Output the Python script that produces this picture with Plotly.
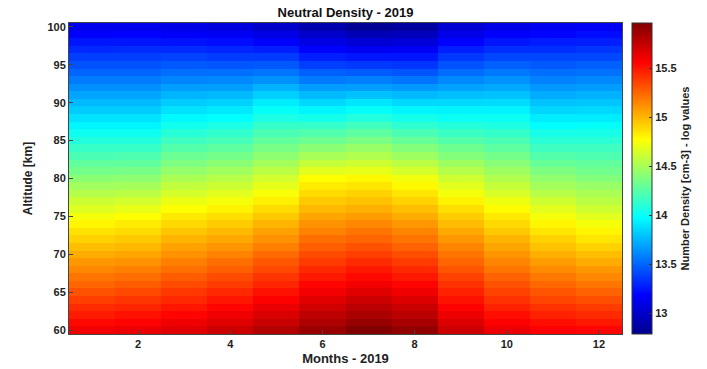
import numpy as np
import plotly.graph_objects as go

# Altitude grid [km] and month numbers
altitudes = list(range(60, 101))
months = list(range(1, 13))

# log10 neutral number density [cm-3], one profile per month, 60 -> 100 km
jan = [15.60, 15.54, 15.48, 15.43, 15.37, 15.31, 15.25, 15.20, 15.14, 15.09, 15.03,
       14.97, 14.91, 14.86, 14.80, 14.74, 14.67, 14.61, 14.54, 14.48, 14.41,
       14.34, 14.28, 14.21, 14.15, 14.08, 14.02, 13.95, 13.89, 13.82, 13.76,
       13.70, 13.63, 13.57, 13.50, 13.44, 13.38, 13.31, 13.25, 13.18, 13.12]
feb = [15.62, 15.56, 15.51, 15.45, 15.40, 15.34, 15.28, 15.22, 15.17, 15.11, 15.05,
       14.99, 14.94, 14.88, 14.83, 14.77, 14.70, 14.63, 14.56, 14.49, 14.42,
       14.35, 14.28, 14.22, 14.15, 14.08, 14.02, 13.95, 13.89, 13.82, 13.76,
       13.70, 13.63, 13.57, 13.50, 13.44, 13.38, 13.32, 13.25, 13.19, 13.13]
mar = [15.66, 15.61, 15.55, 15.50, 15.44, 15.39, 15.33, 15.28, 15.22, 15.17, 15.11,
       15.06, 15.00, 14.95, 14.89, 14.84, 14.77, 14.71, 14.64, 14.58, 14.51,
       14.44, 14.37, 14.31, 14.24, 14.17, 14.10, 14.03, 13.96, 13.89, 13.82,
       13.75, 13.68, 13.60, 13.53, 13.46, 13.39, 13.32, 13.24, 13.17, 13.10]
apr = [15.72, 15.66, 15.61, 15.55, 15.50, 15.44, 15.38, 15.33, 15.27, 15.22, 15.16,
       15.10, 15.04, 14.99, 14.93, 14.87, 14.81, 14.74, 14.68, 14.61, 14.55,
       14.48, 14.41, 14.34, 14.27, 14.20, 14.13, 14.06, 13.98, 13.91, 13.84,
       13.76, 13.68, 13.61, 13.53, 13.45, 13.37, 13.30, 13.22, 13.15, 13.07]
may = [15.80, 15.74, 15.68, 15.63, 15.57, 15.51, 15.45, 15.40, 15.34, 15.29, 15.23,
       15.17, 15.11, 15.06, 15.00, 14.94, 14.88, 14.82, 14.75, 14.69, 14.63,
       14.56, 14.49, 14.42, 14.35, 14.28, 14.21, 14.14, 14.06, 13.99, 13.92,
       13.83, 13.74, 13.64, 13.55, 13.46, 13.37, 13.28, 13.18, 13.09, 13.00]
jun = [15.88, 15.82, 15.77, 15.71, 15.66, 15.60, 15.55, 15.49, 15.44, 15.38, 15.33,
       15.27, 15.22, 15.16, 15.11, 15.05, 14.99, 14.94, 14.88, 14.83, 14.77,
       14.68, 14.59, 14.50, 14.41, 14.32, 14.23, 14.14, 14.04, 13.95, 13.86,
       13.76, 13.67, 13.57, 13.48, 13.38, 13.28, 13.19, 13.09, 13.00, 12.90]
jul = [15.95, 15.89, 15.83, 15.78, 15.72, 15.66, 15.60, 15.54, 15.49, 15.43, 15.37,
       15.31, 15.25, 15.20, 15.14, 15.08, 15.02, 14.96, 14.91, 14.85, 14.79,
       14.70, 14.62, 14.53, 14.45, 14.36, 14.27, 14.18, 14.08, 13.99, 13.90,
       13.79, 13.68, 13.58, 13.47, 13.36, 13.25, 13.14, 13.04, 12.93, 12.82]
aug = [15.90, 15.84, 15.78, 15.73, 15.67, 15.61, 15.55, 15.49, 15.44, 15.38, 15.32,
       15.26, 15.20, 15.15, 15.09, 15.03, 14.97, 14.91, 14.85, 14.79, 14.73,
       14.64, 14.56, 14.47, 14.39, 14.30, 14.21, 14.12, 14.04, 13.95, 13.86,
       13.76, 13.66, 13.55, 13.45, 13.35, 13.25, 13.15, 13.05, 12.95, 12.85]
sep = [15.72, 15.67, 15.62, 15.56, 15.51, 15.46, 15.41, 15.36, 15.30, 15.25, 15.20,
       15.15, 15.09, 15.04, 14.98, 14.93, 14.87, 14.81, 14.74, 14.68, 14.62,
       14.54, 14.47, 14.39, 14.32, 14.24, 14.16, 14.09, 14.01, 13.94, 13.86,
       13.78, 13.69, 13.61, 13.52, 13.44, 13.36, 13.28, 13.19, 13.11, 13.03]
oct_ = [15.62, 15.57, 15.52, 15.46, 15.41, 15.36, 15.31, 15.26, 15.20, 15.15, 15.10,
        15.05, 15.00, 14.94, 14.89, 14.84, 14.78, 14.72, 14.65, 14.59, 14.53,
        14.47, 14.40, 14.34, 14.27, 14.21, 14.14, 14.07, 14.01, 13.94, 13.87,
        13.79, 13.71, 13.64, 13.56, 13.48, 13.40, 13.33, 13.25, 13.18, 13.10]
nov = [15.57, 15.52, 15.46, 15.41, 15.35, 15.30, 15.24, 15.19, 15.13, 15.08, 15.02,
       14.96, 14.91, 14.85, 14.80, 14.74, 14.68, 14.62, 14.55, 14.49, 14.43,
       14.37, 14.30, 14.24, 14.17, 14.11, 14.05, 13.98, 13.92, 13.85, 13.79,
       13.72, 13.66, 13.59, 13.53, 13.46, 13.40, 13.33, 13.27, 13.20, 13.14]
dec = [15.55, 15.49, 15.43, 15.38, 15.32, 15.26, 15.20, 15.14, 15.09, 15.03, 14.97,
       14.91, 14.85, 14.80, 14.74, 14.68, 14.62, 14.56, 14.51, 14.45, 14.39,
       14.33, 14.28, 14.22, 14.17, 14.11, 14.05, 13.99, 13.92, 13.86, 13.80,
       13.74, 13.67, 13.61, 13.54, 13.48, 13.41, 13.35, 13.28, 13.22, 13.15]

x_ticks = [2, 4, 6, 8, 10, 12]
y_ticks = [60, 65, 70, 75, 80, 85, 90, 95, 100]
cbar_ticks = [13, 13.5, 14, 14.5, 15, 15.5]

# rows = altitude, columns = month
z = np.array([jan, feb, mar, apr, may, jun, jul, aug, sep, oct_, nov, dec]).T

# MATLAB-style jet colormap
jet = [
    [0.0, "rgb(0,0,143)"],
    [0.125, "rgb(0,0,255)"],
    [0.375, "rgb(0,255,255)"],
    [0.625, "rgb(255,255,0)"],
    [0.875, "rgb(255,0,0)"],
    [1.0, "rgb(128,0,0)"],
]

FONT = "Liberation Sans, Arial, sans-serif"

fig = go.Figure(
    go.Heatmap(
        x=months,
        y=altitudes,
        z=z,
        colorscale=jet,
        zmin=12.79,
        zmax=15.96,
        colorbar=dict(
            x=1.018,
            xanchor="left",
            y=0.5,
            yanchor="middle",
            len=1.0,
            lenmode="fraction",
            thickness=20,
            xpad=0,
            ypad=0,
            outlinecolor="#333333",
            outlinewidth=1,
            tickvals=cbar_ticks,
            ticktext=["13", "13.5", "14", "14.5", "15", "15.5"],
            ticks="inside",
            ticklen=3,
            tickcolor="#333333",
            tickfont=dict(family=FONT, size=11, color="#222222", weight="bold"),
            title=dict(
                text="Number Density [cm-3] - log values",
                side="right",
                font=dict(family=FONT, size=11, color="#222222", weight="bold"),
            ),
        ),
        hovertemplate="Month %{x}<br>%{y} km<br>%{z:.2f}<extra></extra>",
    )
)

fig.update_layout(
    width=707,
    height=369,
    margin=dict(l=69, r=85, t=23, b=35, autoexpand=False),
    paper_bgcolor="white",
    plot_bgcolor="white",
    title=dict(
        text="Neutral Density - 2019",
        x=(69 + 622) / 2 / 707,
        xanchor="center",
        y=1 - 12 / 369,
        yanchor="middle",
        font=dict(family=FONT, size=13, color="#111111", weight="bold"),
    ),
    font=dict(family=FONT, color="#222222"),
)

fig.update_xaxes(
    range=[0.5, 12.5],
    tickvals=x_ticks,
    ticks="inside",
    ticklen=4,
    tickcolor="#444444",
    showline=True,
    linecolor="#444444",
    linewidth=1,
    mirror=True,
    showgrid=False,
    zeroline=False,
    tickfont=dict(family=FONT, size=11, color="#222222", weight="bold"),
    title=dict(
        text="Months - 2019",
        standoff=4,
        font=dict(family=FONT, size=13, color="#222222", weight="bold"),
    ),
)
fig.update_yaxes(
    range=[59.5, 100.5],
    tickvals=y_ticks,
    ticks="inside",
    ticklen=4,
    tickcolor="#444444",
    showline=True,
    linecolor="#444444",
    linewidth=1,
    mirror=True,
    showgrid=False,
    zeroline=False,
    tickfont=dict(family=FONT, size=11, color="#222222", weight="bold"),
    title=dict(
        text="Altitude [km]",
        standoff=12,
        font=dict(family=FONT, size=12, color="#222222", weight="bold"),
    ),
)

fig.write_html("out.html")
